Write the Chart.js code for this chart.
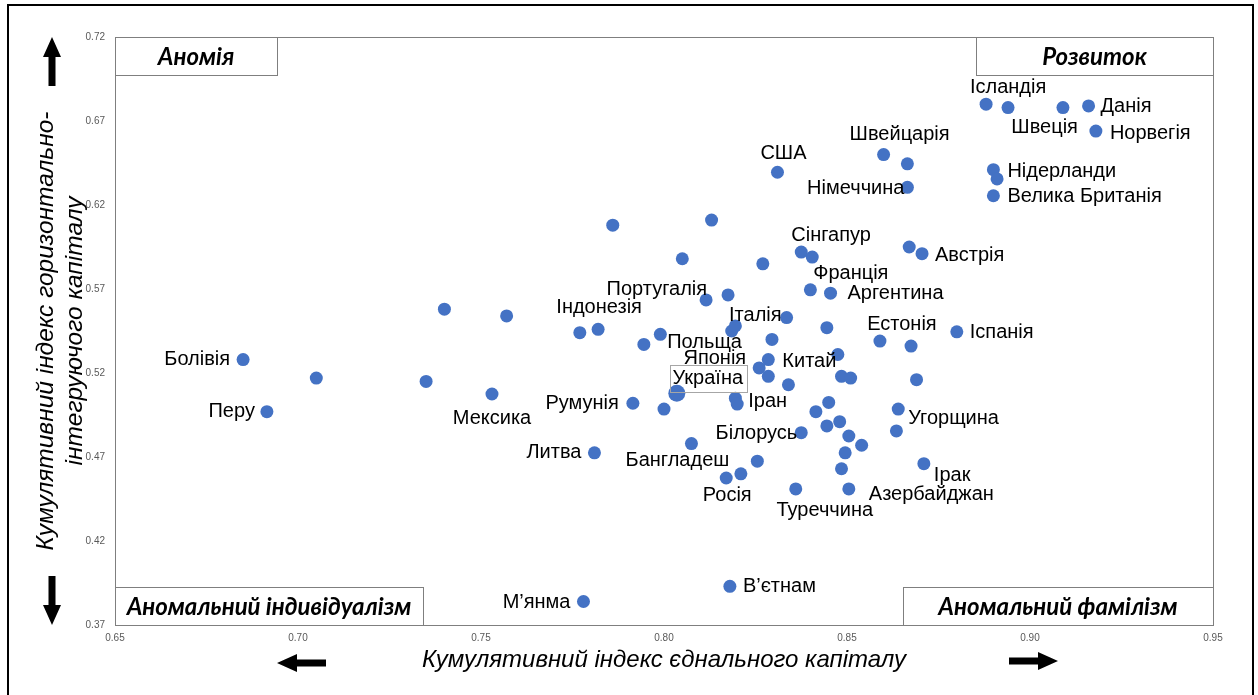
<!DOCTYPE html>
<html>
<head>
<meta charset="utf-8">
<script src="https://cdn.jsdelivr.net/npm/chart.js@4/dist/chart.umd.min.js"></script>
<style>
    body { margin: 0; background: #fff; }
</style>
</head>
<body>
<canvas id="capital-chart" width="1258" height="695"></canvas>
<script>
// Country names ('' = point without a label)
var countries = [
    'Болівія', 'Перу', '', '', '', 'Мексика', '', '', 'Індонезія', 'Литва',
    'М’янма', '', 'Румунія', '', '', '', 'Україна', '', '', 'Португалія',
    '', '', 'Росія', '', 'Бангладеш', 'В’єтнам', '', '', '', 'Іран',
    'Японія', 'Китай', '', 'Польща', '', 'США', 'Італія', '', 'Туреччина', 'Сінгапур',
    'Франція', '', 'Аргентина', 'Білорусь', '', '', '', '', '', '',
    '', '', '', '', '', '', 'Азербайджан', 'Естонія', '', '',
    'Угорщина', '', 'Ірак', 'Іспанія', '', 'Австрія', 'Швейцарія', '', 'Німеччина', 'Ісландія',
    '', 'Швеція', 'Данія', 'Норвегія', 'Нідерланди', '', 'Велика Британія'
];

// Cumulative index of bonding capital (x)
var bondingIndex = [
    0.685, 0.6915, 0.705, 0.735, 0.740, 0.753, 0.757, 0.777, 0.782, 0.781,
    0.778, 0.786, 0.7915, 0.7945, 0.799, 0.800, 0.8035, 0.805, 0.8075, 0.8115,
    0.813, 0.8175, 0.817, 0.821, 0.8255, 0.818, 0.8185, 0.8195, 0.8195, 0.820,
    0.826, 0.8285, 0.8285, 0.8295, 0.827, 0.831, 0.8335, 0.834, 0.836, 0.8375,
    0.8405, 0.840, 0.8455, 0.8375, 0.8415, 0.8445, 0.845, 0.8445, 0.848, 0.8475,
    0.8485, 0.851, 0.8505, 0.854, 0.8495, 0.8485, 0.8505, 0.859, 0.8675, 0.869,
    0.864, 0.8635, 0.871, 0.880, 0.867, 0.8705, 0.860, 0.8665, 0.8665, 0.888,
    0.894, 0.909, 0.916, 0.918, 0.890, 0.891, 0.890
];

// Cumulative index of horizontally-integrating capital (y)
var integratingIndex = [
    0.528, 0.497, 0.517, 0.515, 0.558, 0.5075, 0.554, 0.544, 0.546, 0.4725,
    0.384, 0.608, 0.502, 0.537, 0.543, 0.4985, 0.508, 0.588, 0.478, 0.5635,
    0.611, 0.5665, 0.4575, 0.460, 0.4675, 0.393, 0.545, 0.548, 0.505, 0.5015,
    0.523, 0.528, 0.518, 0.540, 0.585, 0.6395, 0.553, 0.513, 0.451, 0.592,
    0.589, 0.5695, 0.5675, 0.4845, 0.497, 0.547, 0.5025, 0.4885, 0.491, 0.531,
    0.518, 0.517, 0.4825, 0.477, 0.4725, 0.463, 0.451, 0.539, 0.536, 0.516,
    0.4985, 0.4855, 0.466, 0.5445, 0.595, 0.591, 0.650, 0.6445, 0.6305, 0.680,
    0.678, 0.678, 0.679, 0.664, 0.641, 0.6355, 0.6255
];

var xTitle = 'Кумулятивний індекс єднального капіталу';
var yTitle = ['Кумулятивний індекс горизонтально-', 'інтегруючого капіталу'];

// label placement: [textAlign, dx, dy] in px from the point
var labelPlace = {
    'Болівія': ['right', -13, 0],
    'Перу': ['right', -12, 0],
    'Мексика': ['center', 0, 24],
    'Індонезія': ['center', 1, -22],
    'Литва': ['right', -13, 0],
    'М’янма': ['right', -13, 1],
    'Румунія': ['right', -14, 0],
    'Португалія': ['right', 1, -10],
    'Україна': ['center', 31, -15],
    'Польща': ['right', -30, 3],
    'Японія': ['right', -13, -9],
    'Китай': ['left', 14, 2],
    'Іран': ['left', 11, -3],
    'Білорусь': ['right', -4, 1],
    'Бангладеш': ['right', -28, -1],
    'Росія': ['center', 1, 17],
    'В’єтнам': ['left', 13, 0],
    'Туреччина': ['center', 29, 22],
    'Азербайджан': ['left', 20, 6],
    'Ірак': ['left', 10, 12],
    'Угорщина': ['left', 10, 9],
    'Естонія': ['center', 22, -17],
    'Іспанія': ['left', 13, 1],
    'Аргентина': ['left', 17, 0],
    'Франція': ['left', 1, 16],
    'Сінгапур': ['left', -10, -17],
    'Австрія': ['left', 13, 2],
    'США': ['center', 6, -19],
    'Швейцарія': ['center', 16, -20],
    'Німеччина': ['right', -3, 1],
    'Ісландія': ['center', 22, -17],
    'Данія': ['left', 12, 1],
    'Швеція': ['right', 15, 20],
    'Норвегія': ['left', 14, 2],
    'Нідерланди': ['left', 14, 2],
    'Велика Британія': ['left', 14, 1],
    'Італія': ['right', -5, -2]
};

var baseFont = '"Liberation Sans", Arial, sans-serif';
var boxFont = 'italic bold 24px Lato, "Open Sans", sans-serif';

function drawArrow(ctx, x, y, dir, len) {
    // x,y = tip of the arrow
    var head = 20, headW = 9, shaft = 3.5;
    ctx.save();
    ctx.translate(x, y);
    ctx.rotate({ up: 0, down: Math.PI, left: -Math.PI / 2, right: Math.PI / 2 }[dir]);
    ctx.beginPath();
    ctx.moveTo(0, 0);
    ctx.lineTo(headW, head);
    ctx.lineTo(shaft, head);
    ctx.lineTo(shaft, len);
    ctx.lineTo(-shaft, len);
    ctx.lineTo(-shaft, head);
    ctx.lineTo(-headW, head);
    ctx.closePath();
    ctx.fillStyle = '#000';
    ctx.fill();
    ctx.restore();
}

function quadrantBox(ctx, x, y, w, h, text) {
    ctx.fillStyle = '#fff';
    ctx.fillRect(x, y, w, h);
    ctx.strokeStyle = '#7f7f7f';
    ctx.lineWidth = 1;
    ctx.strokeRect(x + 0.5, y + 0.5, w, h);
    ctx.fillStyle = '#000';
    ctx.font = boxFont;
    ctx.textAlign = 'center';
    ctx.textBaseline = 'middle';
    ctx.fillText(text, x + w / 2, y + h / 2 + 1);
}

var decorPlugin = {
    id: 'decor',
    beforeDraw: function (chart) {
        var ctx = chart.ctx;
        ctx.save();
        ctx.fillStyle = '#fff';
        ctx.fillRect(0, 0, chart.width, chart.height);
        ctx.strokeStyle = '#000';
        ctx.lineWidth = 2;
        ctx.strokeRect(8, 5, chart.width - 13, chart.height + 10);
        ctx.restore();
    },
    beforeDatasetsDraw: function (chart) {
        var ctx = chart.ctx, a = chart.chartArea;
        ctx.save();
        ctx.strokeStyle = '#7f7f7f';
        ctx.lineWidth = 1;
        ctx.strokeRect(a.left + 0.5, a.top + 0.5, a.right - a.left, a.bottom - a.top);
        ctx.restore();
    },
    afterDatasetsDraw: function (chart) {
        var ctx = chart.ctx, a = chart.chartArea;
        ctx.save();

        // quadrant names
        quadrantBox(ctx, a.left, a.top, 162, 38, 'Аномія');
        quadrantBox(ctx, a.right - 237, a.top, 237, 38, 'Розвиток');
        quadrantBox(ctx, a.left, a.bottom - 38, 308, 38, 'Аномальний індивідуалізм');
        quadrantBox(ctx, a.right - 310, a.bottom - 38, 310, 38, 'Аномальний фамілізм');

        // country labels
        var meta = chart.getDatasetMeta(0);
        ctx.font = '20px ' + baseFont;
        ctx.textBaseline = 'middle';
        meta.data.forEach(function (pt, i) {
            var name = countries[i];
            if (!name) return;
            var p = labelPlace[name];
            var tx = pt.x + p[1], ty = pt.y + p[2];
            ctx.textAlign = p[0];
            if (name === 'Україна') {
                var w = ctx.measureText(name).width;
                ctx.strokeStyle = '#a6a6a6';
                ctx.lineWidth = 1;
                ctx.strokeRect(Math.round(tx - w / 2 - 3) + 0.5, Math.round(ty - 13) + 0.5, Math.round(w + 6), 27);
            }
            ctx.fillStyle = '#000';
            ctx.fillText(name, tx, ty);
        });

        // direction arrows
        drawArrow(ctx, 52, a.top, 'up', 49);
        drawArrow(ctx, 52, a.bottom, 'down', 49);
        drawArrow(ctx, a.left + 162, chart.height - 32, 'left', 49);
        drawArrow(ctx, a.right - 155, chart.height - 34, 'right', 49);
        ctx.restore();
    }
};

var points = bondingIndex.map(function (x, i) {
    return { x: x, y: integratingIndex[i] };
});

var ctx = document.getElementById('capital-chart').getContext('2d');
var capitalChart = new Chart(ctx, {
    type: 'scatter',
    data: {
        datasets: [{
            data: points,
            backgroundColor: '#4472C4',
            borderWidth: 0,
            pointRadius: function (c) { return countries[c.dataIndex] === 'Україна' ? 8.5 : 6.5; },
            pointHoverRadius: function (c) { return countries[c.dataIndex] === 'Україна' ? 8.5 : 6.5; }
        }]
    },
    options: {
        responsive: false,
        animation: false,
        layout: { padding: { top: 37, right: 45, left: 0, bottom: 0 } },
        plugins: {
            legend: { display: false },
            tooltip: { enabled: false }
        },
        scales: {
            x: {
                type: 'linear',
                min: 0.65,
                max: 0.95,
                grid: { display: false, drawTicks: false },
                border: { display: false },
                ticks: {
                    stepSize: 0.05,
                    padding: 7,
                    maxRotation: 0,
                    color: '#595959',
                    font: { size: 10, family: baseFont },
                    callback: function (v) { return v.toFixed(2); }
                },
                title: {
                    display: true,
                    text: xTitle,
                    color: '#000',
                    font: { size: 24, style: 'italic', family: baseFont },
                    padding: { top: 0, bottom: 20 }
                },
                afterFit: function (s) { s.height = 70; }
            },
            y: {
                type: 'linear',
                min: 0.37,
                max: 0.72,
                grid: { display: false, drawTicks: false },
                border: { display: false },
                ticks: {
                    stepSize: 0.05,
                    padding: 10,
                    color: '#595959',
                    font: { size: 10, family: baseFont },
                    callback: function (v) { return v.toFixed(2); }
                },
                title: {
                    display: true,
                    text: yTitle,
                    color: '#000',
                    font: { size: 24.5, style: 'italic', family: baseFont, lineHeight: 1.2 },
                    padding: { top: 31, bottom: 0 }
                },
                afterFit: function (s) { s.width = 115; }
            }
        }
    },
    plugins: [decorPlugin]
});
</script>
</body>
</html>
